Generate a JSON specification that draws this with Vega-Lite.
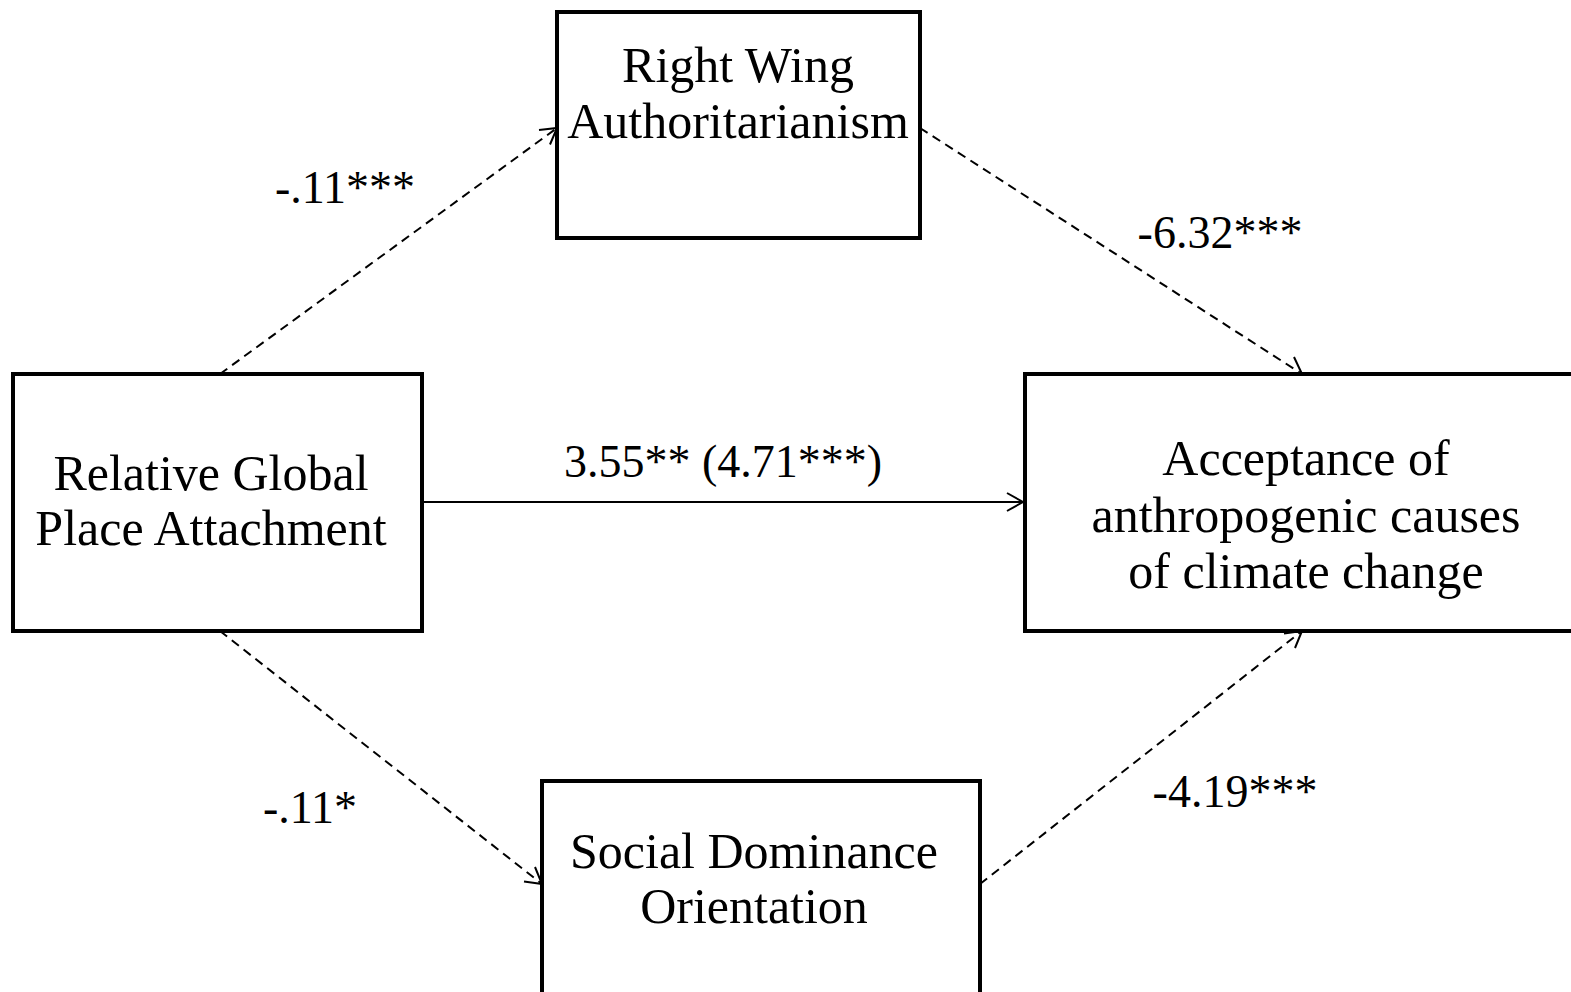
{
  "$schema": "https://vega.github.io/schema/vega-lite/v6.json",
  "autosize": {"type": "fit", "contains": "padding"},
  "width": 1571,
  "height": 992,
  "padding": 0,
  "background": "white",
  "config": {"view": {"stroke": null}},
  "datasets": {
    "boxes": [
      {"name": "RWA", "x1": 557, "x2": 920, "y1": 12, "y2": 238},
      {"name": "RGPA", "x1": 13, "x2": 422, "y1": 374, "y2": 631},
      {"name": "Accept", "x1": 1025, "x2": 1580, "y1": 374, "y2": 631},
      {"name": "SDO", "x1": 542, "x2": 980, "y1": 781, "y2": 1000}
    ],
    "segments": [
      {"id": "a1", "style": "dashed", "ord": 0, "x": 220, "y": 374},
      {"id": "a1", "style": "dashed", "ord": 1, "x": 557, "y": 128},
      {"id": "a2", "style": "dashed", "ord": 0, "x": 920, "y": 128},
      {"id": "a2", "style": "dashed", "ord": 1, "x": 1302, "y": 374},
      {"id": "a4", "style": "dashed", "ord": 0, "x": 220, "y": 631},
      {"id": "a4", "style": "dashed", "ord": 1, "x": 542, "y": 884},
      {"id": "a5", "style": "dashed", "ord": 0, "x": 980, "y": 884},
      {"id": "a5", "style": "dashed", "ord": 1, "x": 1302, "y": 631},
      {"id": "a3", "style": "solid", "ord": 0, "x": 422, "y": 502},
      {"id": "a3", "style": "solid", "ord": 1, "x": 1023, "y": 502},
      {"id": "h1", "style": "solid", "ord": 0, "x": 539, "y": 130},
      {"id": "h1", "style": "solid", "ord": 1, "x": 557, "y": 128},
      {"id": "h1", "style": "solid", "ord": 2, "x": 550, "y": 144.5},
      {"id": "h2", "style": "solid", "ord": 0, "x": 1294, "y": 357},
      {"id": "h2", "style": "solid", "ord": 1, "x": 1302, "y": 374},
      {"id": "h2", "style": "solid", "ord": 2, "x": 1284, "y": 373},
      {"id": "h3", "style": "solid", "ord": 0, "x": 1007, "y": 493},
      {"id": "h3", "style": "solid", "ord": 1, "x": 1023, "y": 502},
      {"id": "h3", "style": "solid", "ord": 2, "x": 1007, "y": 511},
      {"id": "h4", "style": "solid", "ord": 0, "x": 535, "y": 867},
      {"id": "h4", "style": "solid", "ord": 1, "x": 542, "y": 884},
      {"id": "h4", "style": "solid", "ord": 2, "x": 524, "y": 881.5},
      {"id": "h5", "style": "solid", "ord": 0, "x": 1284, "y": 633.5},
      {"id": "h5", "style": "solid", "ord": 1, "x": 1302, "y": 631},
      {"id": "h5", "style": "solid", "ord": 2, "x": 1295, "y": 648}
    ],
    "texts": [
      {"kind": "box", "t": "Right Wing", "x": 738, "y": 82},
      {"kind": "box", "t": "Authoritarianism", "x": 738, "y": 138},
      {"kind": "box", "t": "Relative Global", "x": 211, "y": 490},
      {"kind": "box", "t": "Place Attachment", "x": 211, "y": 545},
      {"kind": "box", "t": "Acceptance of", "x": 1306, "y": 475},
      {"kind": "box", "t": "anthropogenic causes", "x": 1306, "y": 532},
      {"kind": "box", "t": "of climate change", "x": 1306, "y": 588},
      {"kind": "box", "t": "Social Dominance", "x": 754, "y": 868},
      {"kind": "box", "t": "Orientation", "x": 754, "y": 923},
      {"kind": "path", "t": "-.11***", "x": 345, "y": 203},
      {"kind": "path", "t": "-6.32***", "x": 1220, "y": 248},
      {"kind": "path", "t": "3.55** (4.71***)", "x": 723, "y": 477},
      {"kind": "path", "t": "-.11*", "x": 310, "y": 823},
      {"kind": "path", "t": "-4.19***", "x": 1235, "y": 807}
    ]
  },
  "layer": [
    {
      "data": {"name": "boxes"},
      "mark": {"type": "rect", "filled": false, "stroke": "black", "strokeWidth": 4, "clip": true},
      "encoding": {
        "x": {"field": "x1", "type": "quantitative", "scale": {"domain": [0, 1571], "nice": false, "zero": false}, "axis": null},
        "x2": {"field": "x2"},
        "y": {"field": "y1", "type": "quantitative", "scale": {"domain": [0, 992], "nice": false, "zero": false, "reverse": true}, "axis": null},
        "y2": {"field": "y2"}
      }
    },
    {
      "data": {"name": "segments"},
      "transform": [{"filter": "datum.style == 'dashed'"}],
      "mark": {"type": "line", "stroke": "black", "strokeWidth": 2, "strokeDash": [9, 6], "clip": true},
      "encoding": {
        "x": {"field": "x", "type": "quantitative"},
        "y": {"field": "y", "type": "quantitative"},
        "detail": {"field": "id"},
        "order": {"field": "ord"}
      }
    },
    {
      "data": {"name": "segments"},
      "transform": [{"filter": "datum.style == 'solid'"}],
      "mark": {"type": "line", "stroke": "black", "strokeWidth": 2, "clip": true},
      "encoding": {
        "x": {"field": "x", "type": "quantitative"},
        "y": {"field": "y", "type": "quantitative"},
        "detail": {"field": "id"},
        "order": {"field": "ord"}
      }
    },
    {
      "data": {"name": "texts"},
      "transform": [{"filter": "datum.kind == 'box'"}],
      "mark": {"type": "text", "font": "Liberation Serif", "fontSize": 50, "align": "center", "baseline": "alphabetic", "color": "black"},
      "encoding": {
        "x": {"field": "x", "type": "quantitative"},
        "y": {"field": "y", "type": "quantitative"},
        "text": {"field": "t"}
      }
    },
    {
      "data": {"name": "texts"},
      "transform": [{"filter": "datum.kind == 'path'"}],
      "mark": {"type": "text", "font": "Liberation Serif", "fontSize": 46, "align": "center", "baseline": "alphabetic", "color": "black"},
      "encoding": {
        "x": {"field": "x", "type": "quantitative"},
        "y": {"field": "y", "type": "quantitative"},
        "text": {"field": "t"}
      }
    }
  ]
}
